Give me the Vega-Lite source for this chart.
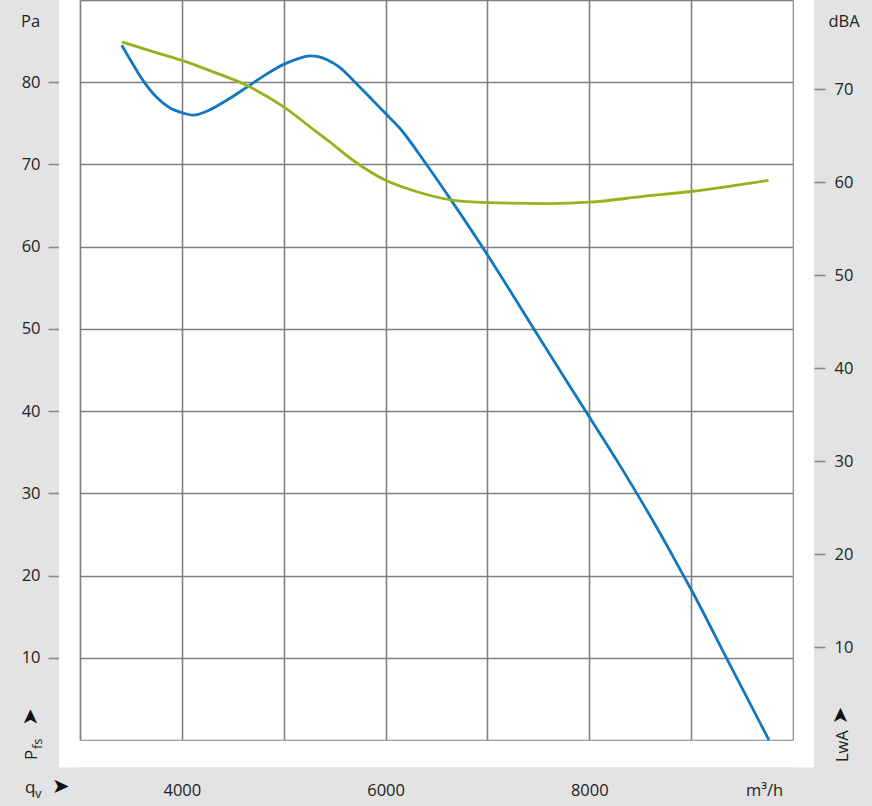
{
  "$schema": "https://vega.github.io/schema/vega-lite/v6.json",
  "width": 713,
  "height": 740,
  "autosize": {"type": "none"},
  "padding": {"left": 80, "top": 0, "right": 79, "bottom": 66},
  "background": "#e3e3e3",
  "config": {
    "view": {"stroke": null, "fill": "white"},
    "font": "Open Sans",
    "axis": {
      "gridColor": "#808080",
      "gridWidth": 1.6,
      "gridOpacity": 1,
      "tickColor": "#8a8a8a",
      "tickWidth": 1.6,
      "labelFont": "Open Sans",
      "labelFontSize": 16.5,
      "labelColor": "#222222",
      "titleFont": "Open Sans",
      "titleFontSize": 16.5,
      "titleFontWeight": "normal",
      "titleColor": "#222222",
      "domain": false
    }
  },
  "datasets": {
    "pa": [
      {"q": 3410, "p": 84.5}, {"q": 3500, "p": 82.6}, {"q": 3620, "p": 80.2},
      {"q": 3750, "p": 78.2}, {"q": 3880, "p": 76.9}, {"q": 4000, "p": 76.3},
      {"q": 4110, "p": 76.0}, {"q": 4250, "p": 76.5}, {"q": 4440, "p": 77.8},
      {"q": 4640, "p": 79.4}, {"q": 4820, "p": 80.9}, {"q": 5005, "p": 82.2},
      {"q": 5150, "p": 82.9}, {"q": 5260, "p": 83.2}, {"q": 5340, "p": 83.1},
      {"q": 5430, "p": 82.7}, {"q": 5550, "p": 81.8}, {"q": 5700, "p": 80.0},
      {"q": 5850, "p": 78.1}, {"q": 6000, "p": 76.2}, {"q": 6140, "p": 74.4},
      {"q": 6390, "p": 70.2}, {"q": 6630, "p": 65.9}, {"q": 6990, "p": 59.2},
      {"q": 7270, "p": 53.7}, {"q": 7450, "p": 50.1}, {"q": 7990, "p": 39.5},
      {"q": 8300, "p": 33.4}, {"q": 8500, "p": 29.3}, {"q": 8720, "p": 24.6},
      {"q": 8920, "p": 20.1}, {"q": 9000, "p": 18.3}, {"q": 9350, "p": 9.9},
      {"q": 9764, "p": 0}
    ],
    "dba": [
      {"q": 3410, "l": 75.1}, {"q": 3700, "l": 74.1}, {"q": 4000, "l": 73.1},
      {"q": 4300, "l": 71.9}, {"q": 4640, "l": 70.4}, {"q": 5000, "l": 68.1},
      {"q": 5300, "l": 65.6}, {"q": 5420, "l": 64.6}, {"q": 5700, "l": 62.2},
      {"q": 6000, "l": 60.2}, {"q": 6300, "l": 59.0}, {"q": 6640, "l": 58.1},
      {"q": 7000, "l": 57.8}, {"q": 7600, "l": 57.7}, {"q": 8000, "l": 57.85},
      {"q": 8550, "l": 58.5}, {"q": 9000, "l": 59.0}, {"q": 9400, "l": 59.6},
      {"q": 9760, "l": 60.2}
    ]
  },
  "layer": [
    {
      "data": {"values": [{}]},
      "mark": {"type": "rect", "fill": "white"},
      "encoding": {
        "x": {"datum": 2794, "type": "quantitative", "scale": {"domain": [3000, 10000], "nice": false, "zero": false}},
        "x2": {"datum": 2992},
        "y": {"datum": -3.3, "type": "quantitative", "scale": {"domain": [0, 90], "nice": false, "zero": false}, "axis": null},
        "y2": {"datum": 92}
      }
    },
    {
      "data": {"values": [{}]},
      "mark": {"type": "rect", "fill": "white"},
      "encoding": {
        "x": {"datum": 10008, "type": "quantitative", "scale": {"domain": [3000, 10000], "nice": false, "zero": false}},
        "x2": {"datum": 10206},
        "y": {"datum": -3.3, "type": "quantitative", "scale": {"domain": [0, 90], "nice": false, "zero": false}, "axis": null},
        "y2": {"datum": 92}
      }
    },
    {
      "data": {"values": [{}]},
      "mark": {"type": "rect", "fill": "white"},
      "encoding": {
        "x": {"datum": 2794, "type": "quantitative", "scale": {"domain": [3000, 10000], "nice": false, "zero": false}},
        "x2": {"datum": 10206},
        "y": {"datum": -3.3, "type": "quantitative", "scale": {"domain": [0, 90], "nice": false, "zero": false}, "axis": null},
        "y2": {"datum": -0.1}
      }
    },
    {
      "data": {"name": "pa"},
      "mark": {"type": "line", "color": "#1178c0", "strokeWidth": 2.8, "interpolate": "monotone"},
      "encoding": {
        "x": {
          "field": "q", "type": "quantitative",
          "scale": {"domain": [3000, 10000], "nice": false, "zero": false},
          "axis": {
            "values": [3000, 4000, 5000, 6000, 7000, 8000, 9000, 10000],
            "grid": true, "ticks": false,
            "format": "d",
            "labelExpr": "(datum.value % 2000 == 0 && datum.value > 3000 && datum.value < 10000) ? datum.label : ''",
            "labelPadding": 55, "labelBaseline": "alphabetic",
            "title": "m³/h", "titleX": 684, "titleY": 55,
            "titleAlign": "center", "titleBaseline": "alphabetic"
          }
        },
        "y": {
          "field": "p", "type": "quantitative",
          "scale": {"domain": [0, 90], "nice": false, "zero": false},
          "axis": {
            "orient": "left",
            "values": [0, 10, 20, 30, 40, 50, 60, 70, 80, 90],
            "grid": true, "offset": 21, "tickSize": 11,
            "tickOpacity": {"condition": {"test": "datum.value < 10 || datum.value > 80", "value": 0}, "value": 1},
            "labelExpr": "(datum.value >= 10 && datum.value <= 80) ? datum.label : ''",
            "labelPadding": 8, "labelBaseline": "middle",
            "title": "Pa", "titleAngle": 0, "titleX": -29, "titleY": 26,
            "titleAlign": "center", "titleBaseline": "alphabetic"
          }
        }
      }
    },
    {
      "data": {"name": "dba"},
      "mark": {"type": "line", "color": "#95b31c", "strokeWidth": 2.8, "interpolate": "monotone"},
      "encoding": {
        "x": {"field": "q", "type": "quantitative", "scale": {"domain": [3000, 10000], "nice": false, "zero": false}},
        "y": {
          "field": "l", "type": "quantitative",
          "scale": {"domain": [0, 79.6], "nice": false, "zero": false},
          "axis": {
            "orient": "right",
            "values": [10, 20, 30, 40, 50, 60, 70],
            "grid": false, "offset": 21, "tickSize": 11,
            "labelPadding": 9, "labelBaseline": "middle",
            "title": "dBA", "titleAngle": 0, "titleX": 29.5, "titleY": 26,
            "titleAlign": "center", "titleBaseline": "alphabetic"
          }
        }
      }
    },
    {
      "data": {"values": [{}]},
      "mark": {"type": "text", "text": "q", "fontSize": 17, "align": "left", "baseline": "alphabetic", "color": "#222222", "font": "Open Sans"},
      "encoding": {
        "x": {"datum": 2460, "type": "quantitative", "scale": {"domain": [3000, 10000], "nice": false, "zero": false}},
        "y": {"datum": -6.4, "type": "quantitative", "scale": {"domain": [0, 90], "nice": false, "zero": false}, "axis": null}
      }
    },
    {
      "data": {"values": [{}]},
      "mark": {"type": "text", "text": "v", "fontSize": 13, "align": "left", "baseline": "alphabetic", "color": "#222222", "font": "Open Sans"},
      "encoding": {
        "x": {"datum": 2558, "type": "quantitative", "scale": {"domain": [3000, 10000], "nice": false, "zero": false}},
        "y": {"datum": -7.05, "type": "quantitative", "scale": {"domain": [0, 90], "nice": false, "zero": false}, "axis": null}
      }
    },
    {
      "data": {"values": [{}]},
      "mark": {"type": "text", "text": "➤", "fontSize": 21, "align": "left", "baseline": "middle", "color": "#111111", "font": "DejaVu Sans"},
      "encoding": {
        "x": {"datum": 2725, "type": "quantitative", "scale": {"domain": [3000, 10000], "nice": false, "zero": false}},
        "y": {"datum": -5.7, "type": "quantitative", "scale": {"domain": [0, 90], "nice": false, "zero": false}, "axis": null}
      }
    },
    {
      "data": {"values": [{}]},
      "mark": {"type": "text", "text": "P", "angle": 270, "fontSize": 17, "align": "left", "baseline": "alphabetic", "color": "#222222", "font": "Open Sans"},
      "encoding": {
        "x": {"datum": 2578, "type": "quantitative", "scale": {"domain": [3000, 10000], "nice": false, "zero": false}},
        "y": {"datum": -2.43, "type": "quantitative", "scale": {"domain": [0, 90], "nice": false, "zero": false}, "axis": null}
      }
    },
    {
      "data": {"values": [{}]},
      "mark": {"type": "text", "text": "fs", "angle": 270, "fontSize": 13, "align": "left", "baseline": "alphabetic", "color": "#222222", "font": "Open Sans"},
      "encoding": {
        "x": {"datum": 2627, "type": "quantitative", "scale": {"domain": [3000, 10000], "nice": false, "zero": false}},
        "y": {"datum": -1.1, "type": "quantitative", "scale": {"domain": [0, 90], "nice": false, "zero": false}, "axis": null}
      }
    },
    {
      "data": {"values": [{}]},
      "mark": {"type": "text", "text": "➤", "angle": 270, "fontSize": 21, "align": "center", "baseline": "middle", "color": "#111111", "font": "DejaVu Sans"},
      "encoding": {
        "x": {"datum": 2519, "type": "quantitative", "scale": {"domain": [3000, 10000], "nice": false, "zero": false}},
        "y": {"datum": 2.8, "type": "quantitative", "scale": {"domain": [0, 90], "nice": false, "zero": false}, "axis": null}
      }
    },
    {
      "data": {"values": [{}]},
      "mark": {"type": "text", "text": "LwA", "angle": 270, "fontSize": 16.5, "align": "left", "baseline": "alphabetic", "color": "#222222", "font": "Open Sans"},
      "encoding": {
        "x": {"datum": 10540, "type": "quantitative", "scale": {"domain": [3000, 10000], "nice": false, "zero": false}},
        "y": {"datum": -2.68, "type": "quantitative", "scale": {"domain": [0, 90], "nice": false, "zero": false}, "axis": null}
      }
    },
    {
      "data": {"values": [{}]},
      "mark": {"type": "text", "text": "➤", "angle": 270, "fontSize": 21, "align": "center", "baseline": "middle", "color": "#111111", "font": "DejaVu Sans"},
      "encoding": {
        "x": {"datum": 10471, "type": "quantitative", "scale": {"domain": [3000, 10000], "nice": false, "zero": false}},
        "y": {"datum": 3.0, "type": "quantitative", "scale": {"domain": [0, 90], "nice": false, "zero": false}, "axis": null}
      }
    }
  ],
  "resolve": {"scale": {"y": "independent"}, "axis": {"y": "independent"}}
}
